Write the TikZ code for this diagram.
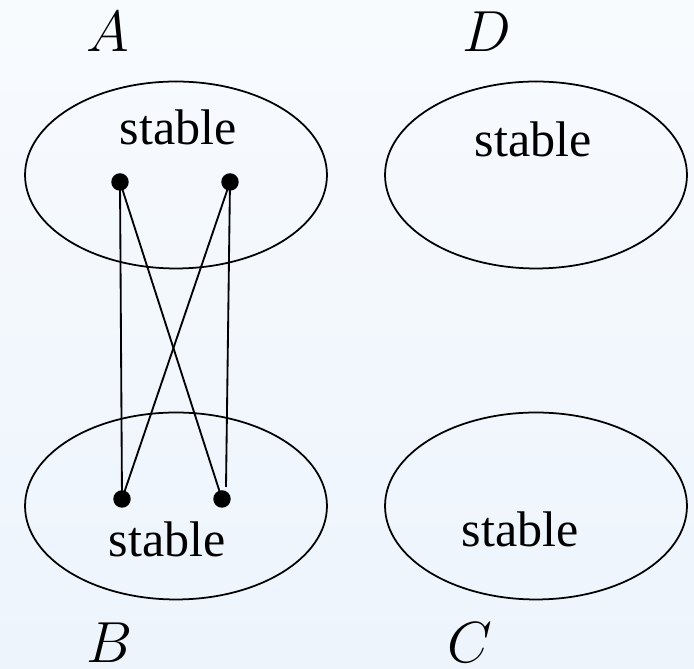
\RequirePackage{fix-cm}
\documentclass[tikz,border=0pt]{standalone}
\usepackage{fontspec}
\setmainfont{Liberation Serif}
\usetikzlibrary{shapes.geometric}
\definecolor{cFondoA}{HTML}{F8FBFE}
\definecolor{cFondoB}{HTML}{EDF4FC}
\tikzset{
    x=0.02cm, y=0.02cm,
    conj/.style={draw, ellipse, line width=1pt, minimum width=6.04cm,
                 minimum height=3.74cm, inner sep=0pt},
    punto/.style={circle, fill=black, inner sep=0pt, minimum size=0.35cm},
    arista/.style={line width=1.05pt},
    estab/.style={font=\fontsize{28.5}{30}\selectfont, anchor=base, inner sep=0pt},
    letra/.style={font=\fontsize{33}{36}\selectfont, anchor=base, inner sep=0pt},
}

\begin{document}
\begin{tikzpicture}
    \shade[top color=cFondoA, bottom color=cFondoB] (0,0) rectangle (694,669);
    \useasboundingbox (0,0) rectangle (694,669);

    % los cuatro conjuntos
    \node[conj] (cA) at (176,494) {};
    \node[conj] (cD) at (536,494) {};
    \node[conj] (cB) at (176,163) {};
    \node[conj] (cC) at (536,163) {};

    \node[estab] (tA) at (178,524) {stable};
    \node[estab] (tD) at (533,512) {stable};
    \node[estab] (tB) at (167,112) {stable};
    \node[estab] (tC) at (520,122) {stable};

    \node[letra] (lA) at (108,617) {$A$};
    \node[letra] (lD) at (487,617) {$D$};
    \node[letra] (lB) at (110,6) {$B$};
    \node[letra] (lC) at (470,6) {$C$};

    % puntos y cruces entre A y B
    \node[punto] (a1) at (120,487) {};
    \node[punto] (a2) at (230,487) {};
    \node[punto] (b1) at (122,170) {};
    \node[punto] (b2) at (222,170) {};
    \coordinate (b2t) at (226,182);

    \draw[arista] (a1.center) -- (b1.center);
    \draw[arista] (a1.center) -- (b2.center);
    \draw[arista] (a2.center) -- (b1.center);
    \draw[arista] (a2.center) -- (b2t);
\end{tikzpicture}
\end{document}
